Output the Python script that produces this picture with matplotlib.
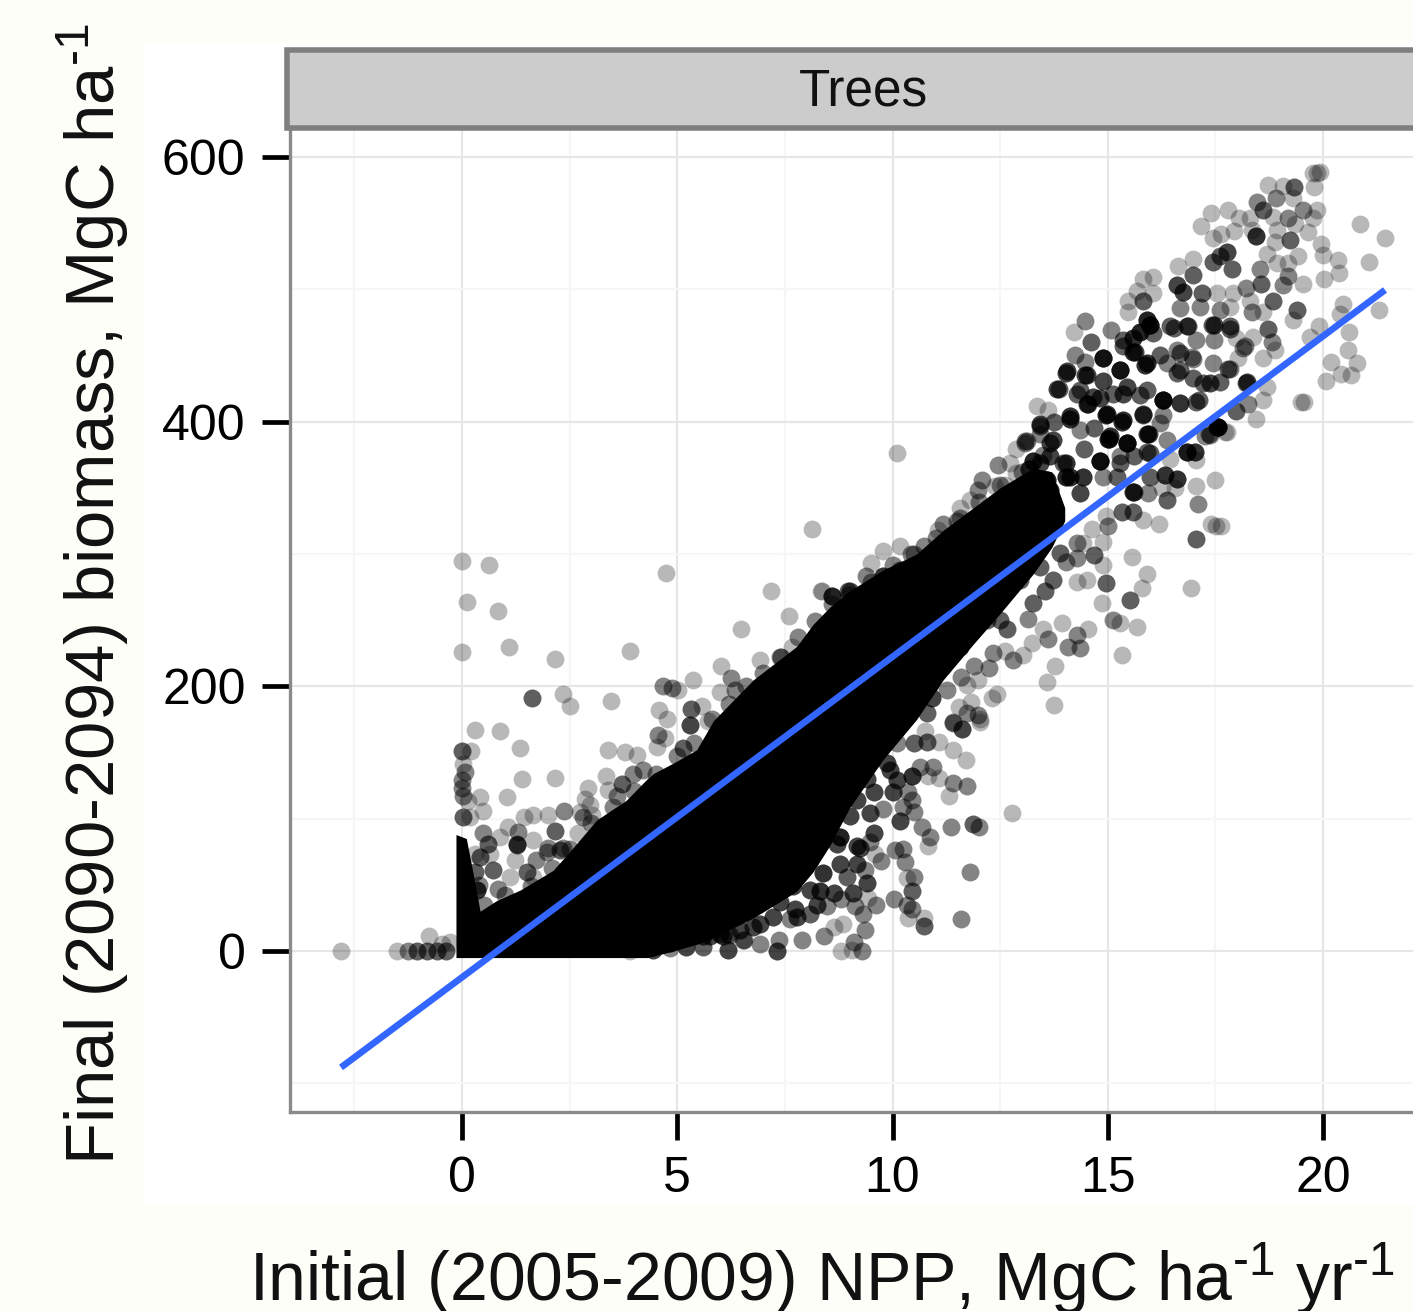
import numpy as np
import matplotlib
matplotlib.use("Agg")
import matplotlib.pyplot as plt
from matplotlib.patches import Rectangle

# === Data ===
# saturated part of the cloud: upper and lower edge
core_x = [-0.14, 0.1, 0.25, 0.42, 0.8, 1.35, 2.12, 2.58, 3.13, 3.82, 4.3, 4.44, 4.91, 5.45, 5.84, 6.77, 7.77, 8.16, 8.55, 9.0, 9.79, 10.56, 11.18, 11.88, 12.5, 13.27, 13.7, 14.0]
core_top = [88, 85, 60, 30, 38, 46, 61, 78, 99, 114, 130, 134, 142, 152, 174, 205, 230, 247, 260, 272, 288, 300, 318, 335, 350, 365, 362, 335]
core_bot = [-5, -5, -5, -5, -5, -5, -5, -5, -5, -5, -5, -4, 0, 5, 10, 25, 45, 60, 80, 108, 145, 175, 205, 232, 255, 285, 305, 325]

# top right of the cloud
top_x = [19.77, 19.93, 19.85, 18.73, 19.08, 19.32, 19.80, 18.46, 18.91, 19.31,
         17.40, 17.80, 18.05, 18.30, 18.61, 18.84, 19.19, 19.54, 19.85, 19.77,
         20.86, 21.44, 17.16, 17.45, 17.64, 17.93, 18.44, 18.34, 18.92, 19.35,
         19.64, 19.23, 18.88, 19.95, 20.0, 20.34, 21.07, 20.37, 20.03, 19.54,
         19.42, 19.19, 18.92, 19.19, 19.08, 18.69, 18.53, 18.57, 18.22, 17.76,
         17.45, 17.60, 17.88, 16.99, 16.62, 16.99, 16.6, 16.75, 17.18, 16.06,
         15.82, 15.67, 15.48, 15.48, 15.82, 16.06, 17.53, 17.91, 16.68, 17.14,
         17.6, 17.84, 18.3, 18.34, 18.84, 18.61, 19.39, 19.31, 20.47, 20.39,
         21.31, 19.9, 19.7, 20.61, 20.59, 20.78, 20.18, 20.42, 20.65, 20.08,
         19.5, 19.55, 18.73, 18.81, 18.88, 18.61, 18.15, 17.99, 18.03, 18.38,
         17.84, 17.41, 16.83, 16.44, 17.06, 15.98, 15.75, 15.59, 15.9, 16.06,
         14.47, 14.22, 15.07, 14.62, 15.59, 15.36, 14.89, 14.24, 15.86, 16.6,
         17.45, 16.99, 16.37, 16.68, 17.22, 17.6, 17.84, 18.22, 14.04, 14.51,
         14.89, 15.28, 13.81, 14.28, 14.66, 15.44, 15.13, 15.9, 16.29, 16.68,
         17.06, 13.36, 13.62, 13.42, 14.12, 14.51, 14.97, 15.36, 15.82, 16.21,
         13.73, 13.08, 14.35, 15.01, 15.44, 15.94, 17.57, 17.37, 17.76, 17.99,
         18.26, 18.61, 18.44, 18.69]
top_y = [588, 589, 588, 579, 578, 577, 577, 566, 569, 569,
         558, 560, 554, 554, 560, 555, 554, 560, 560, 554,
         549, 539, 548, 539, 542, 544, 540, 545, 545, 549,
         543, 537, 536, 534, 526, 522, 521, 512, 508, 504,
         525, 520, 520, 510, 503, 527, 515, 504, 501, 528,
         521, 525, 515, 523, 518, 511, 503, 498, 497, 509,
         508, 499, 491, 483, 491, 497, 497, 497, 486, 487,
         484, 487, 491, 483, 491, 483, 484, 477, 489, 481,
         484, 472, 464, 468, 454, 444, 445, 436, 435, 431,
         415, 415, 470, 460, 454, 448, 456, 463, 448, 464,
         470, 473, 472, 472, 462, 473, 468, 463, 477, 467,
         476, 468, 469, 460, 453, 457, 448, 450, 443, 454,
         444, 447, 444, 439, 429, 430, 440, 429, 437, 435,
         431, 439, 425, 421, 419, 426, 421, 424, 416, 414,
         415, 412, 409, 397, 402, 413, 405, 401, 405, 399,
         386, 384, 394, 387, 384, 391, 396, 390, 392, 408,
         413, 416, 402, 426]
top_n = [1, 1, 1, 1, 1, 3, 1, 2, 2, 1,
         1, 1, 1, 1, 3, 1, 2, 2, 1, 1,
         1, 1, 1, 1, 1, 1, 5, 1, 1, 1,
         1, 3, 1, 1, 1, 1, 1, 1, 1, 1,
         1, 1, 1, 2, 2, 1, 2, 3, 2, 4,
         3, 3, 3, 1, 1, 3, 4, 4, 3, 1,
         1, 1, 1, 1, 3, 1, 1, 1, 2, 2,
         2, 1, 1, 2, 3, 1, 3, 1, 1, 1,
         1, 1, 1, 1, 1, 1, 1, 1, 1, 1,
         1, 1, 3, 2, 1, 1, 2, 1, 1, 1,
         3, 3, 3, 3, 2, 8, 6, 5, 6, 3,
         2, 1, 2, 3, 5, 3, 4, 2, 5, 2,
         2, 2, 2, 3, 3, 3, 2, 3, 4, 4,
         4, 4, 4, 3, 4, 4, 3, 3, 5, 2,
         3, 1, 1, 3, 5, 4, 5, 5, 3, 2,
         4, 2, 2, 5, 3, 3, 5, 2, 1, 3,
         2, 1, 1, 1]

# middle of the cloud, both sides of the line
mid_x = [10.10, 8.14, 10.74, 9.79, 10.17, 10.44, 9.49, 9.38, 9.79, 10.17,
         8.35, 8.59, 9.01, 11.18, 11.06, 11.57, 11.57, 11.8, 11.99, 12.09,
         12.46, 12.73, 12.38, 12.61, 12.88, 13.12, 13.42, 12.88, 13.27, 13.66,
         14.04, 13.58, 14.04, 14.43, 14.82, 15.05, 15.44, 15.9, 15.28, 15.98,
         15.59, 15.98, 16.33, 16.6, 16.83, 17.03, 17.06, 17.53, 17.26, 17.72,
         17.04, 17.49, 17.09, 16.37, 15.94, 16.25, 16.56, 15.83, 16.2, 15.32,
         15.59, 15.01, 14.97, 17.06, 17.39, 17.64, 17.51, 14.63, 14.43, 14.88,
         14.69, 14.88, 15.57, 15.9, 15.79, 14.97, 16.93, 15.52, 14.87, 14.51,
         14.28, 13.73, 13.54, 14.04, 14.28, 13.27, 13.15, 13.93, 13.5, 13.62,
         14.55, 14.28, 14.08, 14.35, 13.23, 15.32, 15.13, 15.28, 15.69, 13.77,
         13.6, 13.75, 12.81, 13.04, 12.61, 12.34, 11.89, 12.25, 12.65, 12.5,
         11.59, 11.99, 11.72, 12.42, 12.3, 11.82, 11.55, 11.72, 11.99, 12.03,
         11.4, 11.61, 10.91, 10.79, 10.75, 11.26]
mid_y = [376, 319, 306, 302, 306, 300, 293, 283, 283, 288,
         272, 268, 272, 323, 318, 335, 327, 341, 348, 356,
         367, 369, 351, 352, 361, 385, 391, 379, 370, 374,
         369, 356, 358, 358, 370, 389, 384, 391, 369, 376,
         347, 358, 360, 357, 377, 377, 371, 396, 389, 392,
         351, 356, 338, 341, 346, 350, 350, 326, 323, 332,
         332, 321, 329, 311, 323, 321, 321, 319, 308, 309,
         299, 292, 298, 285, 274, 278, 274, 265, 263, 280,
         279, 280, 272, 294, 297, 263, 251, 248, 243, 236,
         243, 239, 230, 229, 233, 224, 250, 248, 245, 215,
         203, 186, 220, 224, 227, 225, 215, 214, 243, 250,
         207, 205, 201, 194, 191, 188, 184, 180, 178, 175,
         173, 168, 191, 180, 166, 197]
mid_n = [1, 1, 2, 1, 1, 2, 1, 2, 5, 3,
         1, 3, 3, 2, 1, 1, 2, 1, 2, 2,
         2, 1, 1, 1, 1, 2, 2, 1, 6, 4,
         5, 6, 6, 5, 5, 5, 4, 4, 3, 3,
         5, 3, 3, 3, 4, 3, 1, 5, 2, 1,
         1, 1, 2, 3, 2, 1, 1, 1, 1, 3,
         3, 2, 1, 3, 1, 1, 1, 1, 1, 1,
         3, 1, 1, 1, 1, 3, 1, 3, 1, 1,
         1, 3, 3, 2, 2, 3, 2, 1, 1, 2,
         1, 2, 2, 2, 1, 1, 2, 1, 1, 1,
         1, 1, 2, 1, 1, 2, 2, 2, 3, 3,
         2, 1, 1, 1, 1, 1, 1, 2, 2, 1,
         2, 2, 4, 3, 1, 2]

# lower right of the cloud
low_x = [12.03, 11.41, 11.61, 11.07, 11.41, 11.7, 10.8, 10.49, 10.1, 10.64,
         10.95, 11.07, 10.83, 10.45, 11.41, 11.72, 11.31, 10.37, 10.45, 10.49,
         10.25, 10.18, 9.79, 12.77, 11.88, 12.02, 11.36, 10.69, 10.86, 10.82,
         10.06, 10.25, 9.48, 9.6, 9.73, 10.28, 10.49, 10.33, 11.79, 10.45,
         10.04, 10.33, 10.45, 9.44, 9.61, 9.32, 9.13, 8.81, 8.94, 9.17,
         9.36, 9.25, 8.78, 8.36, 8.39, 8.32, 8.47, 8.09, 7.62, 7.74,
         10.35, 10.74, 10.72, 11.58, 8.86, 8.63, 9.36, 8.42, 7.89, 7.37,
         6.92, 6.54, 6.19, 6.23, 6.92, 7.31, 9.11, 8.8, 9.3, 9.05]
low_y = [173, 172, 168, 158, 152, 144, 158, 157, 157, 139,
         139, 131, 132, 132, 127, 125, 117, 120, 114, 105,
         109, 98, 107, 104, 96, 94, 94, 94, 86, 79,
         76, 77, 82, 73, 68, 67, 56, 55, 60, 45,
         39, 35, 32, 40, 35, 28, 34, 39, 56, 66,
         61, 78, 86, 99, 59, 45, 34, 28, 24, 32,
         25, 25, 19, 24, 20, 18, 16, 11, 8, 8,
         5, 8, 1, 12, 20, 0, 7, 0, 0, 1]
low_n = [1, 2, 2, 1, 1, 1, 3, 3, 2, 2,
         2, 1, 1, 5, 2, 2, 1, 2, 2, 2,
         2, 4, 2, 1, 3, 2, 2, 2, 2, 1,
         2, 2, 2, 1, 2, 2, 2, 1, 2, 3,
         2, 2, 2, 1, 2, 2, 2, 2, 3, 4,
         2, 4, 6, 6, 5, 5, 2, 3, 2, 4,
         1, 1, 3, 2, 1, 1, 2, 2, 2, 2,
         2, 2, 2, 2, 4, 4, 2, 1, 2, 1]

# upper left, above the cloud, and along y = 0
left_x = [0.0, 0.63, 4.73, 0.11, 0.83, 1.09, 0.0, 2.16, 3.9, 7.18,
          7.59, 6.47, 8.37, 8.59, 8.97, 6.92, 7.39, 7.66, 6.02, 5.36,
          6.26, 5.99, 6.34, 4.68, 4.87, 5.02, 1.63, 2.34, 2.51, 3.46,
          4.58, 4.77, 5.33, 5.57, 5.3, 5.72, 0.3, 0.88, 1.35, 3.38,
          3.79, 4.07, 4.54, 4.56, 4.71, 5.14, 0.0, 0.22, 1.39, 2.16,
          3.34, 3.71, 3.98, 4.21, 0.03, 0.07, 0.0, 0.0, 0.03, 0.15,
          0.42, 1.05, 2.93, 3.4, 3.59, 2.86, 0.48, 0.03, 0.19, 1.64,
          1.44, 2.0, 2.37, 2.97, 2.74, 2.82, 3.01, 2.16, 0.49, 1.08,
          1.31, 0.61, 1.27, 1.66, 2.7, 2.0, 2.35, 0.88, 0.3, 0.65,
          1.23, 1.27, 0.73, 1.5, 1.11, 0.84, 0.42, 0.34, 1.97, 2.27,
          1.73, 1.66, -2.82, -1.52, -1.25, -1.05, -0.82, -0.59, -0.36, -0.77,
          -0.47, -0.28, 6.19, 6.53, 5.6, 6.19, 3.9, 4.83]
left_y = [295, 292, 286, 264, 257, 230, 226, 221, 227, 272,
          253, 243, 272, 268, 272, 220, 222, 230, 215, 205,
          206, 196, 197, 200, 199, 197, 191, 194, 185, 189,
          182, 175, 183, 185, 171, 174, 167, 166, 153, 152,
          150, 148, 154, 163, 161, 153, 151, 151, 130, 131,
          132, 126, 134, 137, 141, 135, 129, 123, 117, 113,
          116, 116, 123, 122, 117, 115, 106, 101, 101, 103,
          101, 103, 106, 110, 105, 101, 103, 91, 89, 94,
          90, 81, 81, 84, 89, 78, 78, 86, 73, 73,
          69, 80, 61, 60, 56, 47, 71, 46, 75, 76,
          69, 56, 0, 0, 0, 0, 0, 0, 0, 11,
          5, 7, 13, 8, 3, 1, 0, 2]
left_n = [1, 1, 1, 1, 1, 1, 1, 1, 1, 1,
          1, 1, 1, 3, 3, 1, 2, 1, 1, 1,
          2, 1, 2, 2, 2, 1, 3, 1, 1, 1,
          1, 1, 3, 1, 4, 1, 1, 1, 1, 1,
          1, 1, 1, 2, 1, 3, 3, 1, 1, 1,
          1, 3, 2, 2, 1, 2, 2, 2, 2, 1,
          1, 1, 1, 1, 2, 1, 1, 3, 1, 1,
          1, 1, 2, 1, 1, 2, 1, 3, 2, 1,
          2, 3, 3, 1, 1, 2, 2, 1, 1, 1,
          1, 3, 3, 3, 1, 2, 3, 5, 2, 3,
          2, 1, 1, 1, 2, 3, 3, 3, 3, 1,
          1, 1, 2, 2, 3, 2, 1, 2]

# scalloped fringe along the top of the saturated part
edge_x = [0.3, 0.4, 0.5, 1.0, 1.6, 2.1, 2.5, 3.0, 3.5, 4.0,
          4.5, 5.0, 5.4, 5.8, 6.2, 6.6, 7.0, 7.4, 7.8, 8.2,
          8.6, 9.0, 9.5, 10.0, 10.5, 11.0, 11.5, 12.0, 12.5, 13.0, 13.5]
edge_y = [60, 50, 35, 42, 49, 63, 77, 97, 109, 121,
          134, 147, 157, 175, 187, 200, 210, 222, 237, 249,
          262, 269, 279, 292, 300, 312, 325, 339, 352, 362, 375]
edge_n = [3, 2, 2, 2, 2, 2, 2, 2, 2, 2,
          2, 2, 2, 2, 2, 2, 2, 2, 2, 2,
          2, 2, 2, 2, 2, 2, 2, 2, 2, 2, 2]

# dark patches below the line, lower side of the cloud
patch_x = [9.4, 9.94, 9.17, 9.56, 10.02, 9.01, 9.48, 9.87, 10.1, 8.59,
           8.16, 7.85, 8.7, 8.24, 8.78, 8.09, 8.63, 8.09, 7.7, 7.39,
           8.24, 7.78, 7.23, 6.77, 5.76, 6.46, 6.07, 9.09, 9.4, 9.17,
           9.56, 5.6, 5.2, 4.44, 4.83, 6.0]
patch_y = [130, 137, 114, 120, 120, 102, 104, 142, 129, 112,
           91, 76, 81, 81, 66, 69, 44, 46, 49, 37,
           35, 26, 26, 18, 11, 16, 11, 44, 51, 79,
           89, 11, 3, 1, 6, 13]
patch_n = [4, 4, 4, 4, 4, 4, 4, 4, 4, 4,
           4, 4, 4, 4, 4, 4, 4, 4, 4, 4,
           4, 4, 4, 4, 4, 4, 4, 4, 4, 4,
           4, 4, 4, 4, 4, 4]

# dense band between x = 13 and x = 18
band_x = [14.05, 14.47, 14.9, 15.29, 15.91, 15.64, 15.36, 13.86, 14.36, 14.82,
          14.55, 15.36, 15.75, 16.29, 16.68, 17.11, 17.38, 16.99, 16.6, 16.22,
          16.68, 16.96, 17.46, 17.8, 18.23, 13.43, 13.74, 14.13, 14.98, 15.33,
          15.83, 16.29, 15.02, 14.67, 15.95, 15.44, 13.66, 13.08, 14.44, 14.82,
          13.97, 13.43, 13.16, 14.13, 13.66, 14.36, 13.27, 15.6, 15.91, 16.37,
          15.29, 14.9, 15.6, 15.21, 16.33, 16.6, 16.84, 17.03, 16.45, 17.57,
          17.34, 17.46, 17.84, 16.87, 16.53, 18.19, 14.47, 12.19, 11.57, 11.18,
          10.87, 10.48, 10.17, 12.96, 13.42, 13.89, 14.28]
band_y = [438, 435, 448, 439, 444, 453, 462, 425, 424, 418,
          413, 421, 420, 416, 414, 416, 429, 433, 437, 450,
          452, 449, 462, 440, 430, 398, 400, 404, 406, 400,
          406, 405, 387, 395, 391, 384, 384, 385, 379, 370,
          369, 369, 364, 358, 348, 346, 336, 374, 377, 386,
          374, 358, 347, 358, 360, 357, 377, 377, 372, 396,
          391, 473, 472, 472, 471, 457, 445, 250, 230, 215,
          202, 190, 180, 280, 290, 301, 308]
band_n = [4, 4, 4, 4, 5, 4, 3, 3, 3, 4,
          4, 4, 3, 5, 3, 3, 4, 3, 3, 3,
          3, 2, 2, 3, 4, 4, 3, 5, 5, 5,
          4, 2, 5, 3, 3, 3, 4, 2, 3, 4,
          3, 4, 5, 5, 5, 4, 3, 3, 3, 2,
          2, 2, 3, 3, 2, 2, 3, 2, 1, 4,
          2, 4, 3, 3, 3, 2, 2, 3, 4, 4,
          4, 4, 3, 3, 3, 3, 2]

line_x = [-2.81, 21.44]
line_y = [-88, 499.5]

x_ticks = [0, 5, 10, 15, 20]
y_ticks = [0, 200, 400, 600]
x_minor = [-2.5, 2.5, 7.5, 12.5, 17.5]
y_minor = [-100, 100, 300, 500]

all_n = top_n + mid_n + low_n + left_n + edge_n + patch_n + band_n
pts_x = np.repeat(top_x + mid_x + low_x + left_x + edge_x + patch_x + band_x, all_n)
pts_y = np.repeat(top_y + mid_y + low_y + left_y + edge_y + patch_y + band_y, all_n)

# === Figure ===
plt.rcParams["font.family"] = ["Liberation Sans", "DejaVu Sans"]
plt.rcParams["mathtext.fontset"] = "custom"
plt.rcParams["mathtext.rm"] = "Liberation Sans"
plt.rcParams["mathtext.default"] = "regular"

W, H = 1413, 1311
fig = plt.figure(figsize=(W / 100, H / 100), dpi=100, facecolor="#fdfef8")
fig.patches.append(Rectangle((143 / W, 1 - 1205 / H), 1 - 143 / W, (1205 - 42) / H, zorder=-1,
                             transform=fig.transFigure, facecolor="white", edgecolor="none"))

ax = fig.add_axes([290 / W, 1 - 1112 / H, 1 - 290 / W, (1112 - 130) / H])
ax.set_xlim(-3.995, 22.09)
ax.set_ylim(-121.7, 620.4)

# === Grid ===
ax.set_axisbelow(True)
ax.set_xticks(x_ticks)
ax.set_yticks(y_ticks)
ax.set_xticks(x_minor, minor=True)
ax.set_yticks(y_minor, minor=True)
ax.grid(which="major", color="#e6e6e6", lw=1.5)
ax.grid(which="minor", color="#f6f6f6", lw=1.5)

# === Marks ===
ax.fill_between(core_x, core_bot, core_top, color="black", lw=0, zorder=2)
ax.scatter(pts_x, pts_y, s=165, c="black", alpha=0.28, linewidths=0, zorder=3)
ax.plot(line_x, line_y, color="#3366ff", lw=4.8, solid_capstyle="butt", zorder=4)

# === Axes ===
for side in ["top", "right"]:
    ax.spines[side].set_visible(False)
for side in ["left", "bottom"]:
    ax.spines[side].set_color("#8a8a8a")
    ax.spines[side].set_linewidth(2.4)
ax.tick_params(which="major", length=20, width=3.4, color="black", pad=12, labelsize=36)
ax.tick_params(which="minor", length=0)

# === Strip ===
fig.patches.append(Rectangle((287 / W, 1 - 128 / H), 1.0, 78 / H, transform=fig.transFigure,
                             facecolor="#cccccc", edgecolor="#7f7f7f", lw=4))
fig.text(863 / W, 1 - 92 / H, "Trees", fontsize=37, ha="center", va="center", color="#111111")

# === Labels ===
fig.text(822 / W, 1 - 1279 / H, "Initial (2005-2009) NPP, MgC ha$^{\u20101}$ yr$^{\u20101}$",
         fontsize=49, ha="center", va="center", color="#111111")
fig.text(93 / W, 1 - 594 / H, "Final (2090-2094) biomass, MgC ha$^{\u20101}$",
         fontsize=49.6, rotation=90, ha="center", va="center", color="#111111")

fig.savefig("out.png", dpi=100, facecolor=fig.get_facecolor())
